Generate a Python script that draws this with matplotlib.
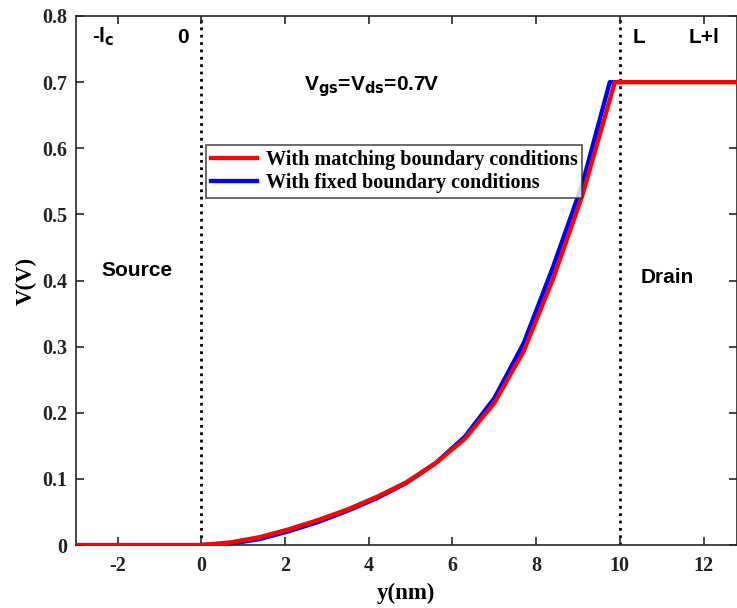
import numpy as np
import matplotlib.pyplot as plt

# data
x_red = [-3.0, 0.0, 0.7, 1.4, 2.1, 2.8, 3.5, 4.2, 4.9, 5.6, 6.3, 7.0, 7.7, 8.4, 9.1, 9.88, 12.8]
v_red = [0.0, 0.0, 0.004, 0.012, 0.024, 0.038, 0.054, 0.073, 0.095, 0.124, 0.161, 0.215, 0.293, 0.402, 0.528, 0.70, 0.70]

x_blue = [0.0, 0.7, 1.4, 2.1, 2.8, 3.5, 4.2, 4.9, 5.6, 6.3, 7.0, 7.7, 8.4, 9.1, 9.76, 10.0]
v_blue = [0.0, 0.002, 0.009, 0.021, 0.035, 0.052, 0.071, 0.094, 0.124, 0.164, 0.222, 0.305, 0.42, 0.545, 0.70, 0.70]

boundaries = [0, 10]
xticks = [-2, 0, 2, 4, 6, 8, 10, 12]
yticks = [0, 0.1, 0.2, 0.3, 0.4, 0.5, 0.6, 0.7, 0.8]

serif = 'Liberation Serif'
sans = 'Liberation Sans'

fig = plt.figure(figsize=(7.37, 6.08), dpi=100)
ax = fig.add_axes([0.103, 0.1036, 0.897, 0.8701])

ax.plot(x_red, v_red, color='#ff0000', lw=3.1, label='With matching boundary conditions', zorder=3)
ax.plot(x_blue, v_blue, color='#0000ff', lw=3.1, label='With fixed boundary conditions', zorder=2)
for b in boundaries:
    ax.axvline(b, color='black', ls=':', lw=2.0, zorder=1)

ax.set_xlim(-3, 12.8)
ax.set_ylim(0, 0.8)
ax.set_xticks(xticks)
ax.set_yticks(yticks)
ax.set_xticklabels([str(t) for t in xticks])
ax.set_yticklabels(['0'] + ['%.1f' % t for t in yticks[1:]])
ax.tick_params(direction='in', top=True, right=True, length=6, width=1.2, colors='#262626',
               labelsize=14.5, pad=8)
ax.tick_params(axis='y', pad=6)
for lab in ax.get_xticklabels() + ax.get_yticklabels():
    lab.set_fontfamily(serif)
    lab.set_fontweight('bold')
    lab.set_color('#222222')
for s in ax.spines.values():
    s.set_color('#262626')
    s.set_linewidth(1.2)

ax.set_xlabel('y(nm)', fontfamily=serif, fontweight='bold', fontsize=16.5, labelpad=5)
ax.set_ylabel('V(V)', fontfamily=serif, fontweight='bold', fontsize=16.5, labelpad=4)

# region annotations
fs = 15
ax.text(-2.62, 0.768, '-l$_\\mathbf{c}$', fontfamily=sans, fontweight='bold', fontsize=fs, va='center')
ax.text(-0.58, 0.768, '0', fontfamily=sans, fontweight='bold', fontsize=fs, va='center')
ax.text(10.3, 0.768, 'L', fontfamily=sans, fontweight='bold', fontsize=fs, va='center')
ax.text(11.65, 0.768, 'L+l', fontfamily=sans, fontweight='bold', fontsize=fs, va='center')
ax.text(2.45, 0.693, 'V$_\\mathbf{gs}$=V$_\\mathbf{ds}$=0.7V', fontfamily=sans, fontweight='bold',
        fontsize=fs, va='center')
ax.text(-2.4, 0.415, 'Source', fontfamily=sans, fontweight='bold', fontsize=fs, va='center')
ax.text(10.5, 0.405, 'Drain', fontfamily=sans, fontweight='bold', fontsize=fs, va='center')

leg = ax.legend(loc='upper left', bbox_to_anchor=(0.197, 0.757), frameon=True, fancybox=False,
                edgecolor='#262626', borderpad=0.25, handlelength=2.3, labelspacing=0.15,
                handletextpad=0.4, borderaxespad=0,
                prop={'family': serif, 'weight': 'bold', 'size': 14.5})
leg.get_frame().set_linewidth(1.2)

fig.savefig('out.png', dpi=100)
